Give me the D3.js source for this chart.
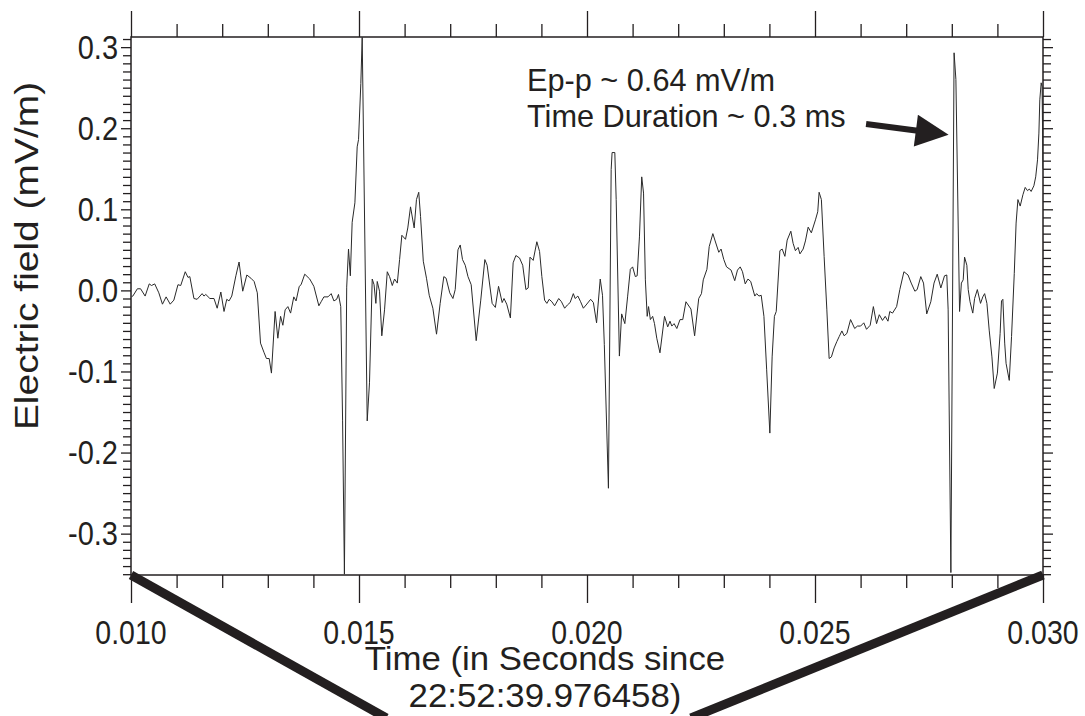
<!DOCTYPE html>
<html>
<head>
<meta charset="utf-8">
<script src="https://cdn.jsdelivr.net/npm/d3@7/dist/d3.min.js"></script>
<style>
  html, body { margin: 0; padding: 0; background: #fff; }
  svg { display: block; }
  text { font-family: "Liberation Sans", Arial, Helvetica, sans-serif; fill: #231f20; }
</style>
</head>
<body>
<svg id="chart" width="1085" height="716"></svg>
<script>
// Time since 22:52:39.976458, in seconds
const time = [
  0.01001, 0.01004, 0.01014, 0.01021, 0.01031, 0.01040, 0.01045, 0.01052, 0.01061, 0.01069,
  0.01077, 0.01086, 0.01094, 0.01103, 0.01109, 0.01119, 0.01125, 0.01129, 0.01138, 0.01145,
  0.01156, 0.01160, 0.01164, 0.01173, 0.01182, 0.01189, 0.01197, 0.01204, 0.01210, 0.01215,
  0.01221, 0.01230, 0.01237, 0.01245, 0.01254, 0.01263, 0.01270, 0.01277, 0.01284, 0.01292,
  0.01297, 0.01303, 0.01308, 0.01316, 0.01322, 0.01328, 0.01333, 0.01338, 0.01344, 0.01350,
  0.01357, 0.01362, 0.01369, 0.01373, 0.01381, 0.01392, 0.01401, 0.01412, 0.01417, 0.01423,
  0.01432, 0.01439, 0.01445, 0.01451, 0.01455, 0.01460, 0.01464, 0.01468, 0.01473, 0.01477,
  0.01481, 0.01485, 0.01491, 0.01496, 0.01499, 0.01504, 0.01507, 0.01518, 0.01523, 0.01529,
  0.01533, 0.01537, 0.01540, 0.01545, 0.01550, 0.01556, 0.01562, 0.01567, 0.01573, 0.01578,
  0.01584, 0.01589, 0.01594, 0.01602, 0.01607, 0.01613, 0.01621, 0.01626, 0.01631, 0.01635,
  0.01641, 0.01648, 0.01654, 0.01662, 0.01670, 0.01678, 0.01686, 0.01691, 0.01699, 0.01706,
  0.01711, 0.01717, 0.01722, 0.01727, 0.01733, 0.01739, 0.01746, 0.01757, 0.01767, 0.01776,
  0.01781, 0.01792, 0.01799, 0.01806, 0.01814, 0.01818, 0.01824, 0.01832, 0.01838, 0.01844,
  0.01852, 0.01859, 0.01866, 0.01871, 0.01875, 0.01882, 0.01890, 0.01896, 0.01901, 0.01907,
  0.01912, 0.01917, 0.01923, 0.01929, 0.01938, 0.01944, 0.01951, 0.01957, 0.01963, 0.01970,
  0.01974, 0.01980, 0.01986, 0.01992, 0.01998, 0.02008, 0.02014, 0.02021, 0.02029, 0.02034,
  0.02038, 0.02047, 0.02053, 0.02055, 0.02061, 0.02064, 0.02071, 0.02076, 0.02083, 0.02089,
  0.02095, 0.02100, 0.02106, 0.02110, 0.02115, 0.02120, 0.02124, 0.02128, 0.02132, 0.02135,
  0.02139, 0.02144, 0.02148, 0.02153, 0.02160, 0.02170, 0.02177, 0.02182, 0.02186, 0.02191,
  0.02197, 0.02204, 0.02210, 0.02217, 0.02228, 0.02236, 0.02245, 0.02251, 0.02255, 0.02263,
  0.02268, 0.02276, 0.02281, 0.02289, 0.02294, 0.02300, 0.02306, 0.02316, 0.02324, 0.02330,
  0.02336, 0.02341, 0.02347, 0.02353, 0.02359, 0.02368, 0.02372, 0.02377, 0.02382, 0.02388,
  0.02394, 0.02401, 0.02406, 0.02411, 0.02415, 0.02423, 0.02428, 0.02434, 0.02439, 0.02447,
  0.02452, 0.02457, 0.02463, 0.02467, 0.02474, 0.02479, 0.02485, 0.02492, 0.02501, 0.02506,
  0.02509, 0.02514, 0.02520, 0.02526, 0.02531, 0.02536, 0.02542, 0.02548, 0.02553, 0.02559,
  0.02564, 0.02570, 0.02578, 0.02587, 0.02593, 0.02600, 0.02607, 0.02613, 0.02621, 0.02628,
  0.02635, 0.02641, 0.02648, 0.02654, 0.02660, 0.02664, 0.02670, 0.02679, 0.02686, 0.02695,
  0.02704, 0.02711, 0.02719, 0.02724, 0.02732, 0.02738, 0.02745, 0.02754, 0.02761, 0.02768,
  0.02776, 0.02784, 0.02789, 0.02792, 0.02798, 0.02805, 0.02809, 0.02817, 0.02821, 0.02825,
  0.02828, 0.02833, 0.02836, 0.02840, 0.02846, 0.02850, 0.02856, 0.02863, 0.02868, 0.02872,
  0.02877, 0.02882, 0.02888, 0.02893, 0.02900, 0.02906, 0.02909, 0.02912, 0.02916, 0.02919,
  0.02926, 0.02931, 0.02937, 0.02941, 0.02945, 0.02950, 0.02956, 0.02961, 0.02966, 0.02970,
  0.02974, 0.02980, 0.02984, 0.02988, 0.02991, 0.02993, 0.02996, 0.02998, 0.03000
];

// Electric field, mV/m
const field = [
  -0.008, -0.007, 0.002, 0.002, -0.007, 0.008, 0.006, 0.008, -0.003, -0.017,
  -0.008, -0.017, -0.012, 0.007, 0.006, 0.023, 0.016, 0.017, -0.010, -0.011,
  -0.004, -0.007, -0.005, -0.010, -0.010, -0.022, -0.002, -0.026, -0.011, -0.013,
  -0.007, 0.018, 0.035, -0.001, 0.019, 0.015, 0.011, -0.003, -0.065, -0.077,
  -0.084, -0.084, -0.102, -0.026, -0.059, -0.032, -0.043, -0.024, -0.020, -0.028,
  -0.008, -0.013, 0.005, 0.007, 0.020, 0.014, 0.005, -0.019, -0.014, -0.008,
  -0.008, -0.004, -0.013, -0.011, -0.005, -0.020, -0.160, -0.350, 0.004, 0.051,
  0.018, 0.084, 0.108, 0.177, 0.186, 0.255, 0.312, -0.161, -0.114, 0.014,
  0.007, -0.016, 0.011, -0.001, -0.056, -0.024, 0.023, 0.017, 0.006, 0.014,
  0.009, 0.038, 0.068, 0.063, 0.077, 0.103, 0.077, 0.112, 0.121, 0.091,
  0.036, 0.015, -0.006, -0.022, -0.054, -0.016, 0.017, 0.015, -0.003, -0.010,
  0.001, 0.050, 0.056, 0.038, 0.031, 0.017, 0.007, -0.062, -0.012, 0.038,
  0.031, -0.016, -0.021, 0.005, -0.015, -0.010, -0.017, -0.034, 0.034, 0.043,
  0.040, 0.031, 0.001, 0.003, 0.041, 0.037, 0.060, 0.048, 0.017, -0.012,
  -0.016, -0.011, -0.014, -0.019, -0.010, -0.014, -0.022, -0.018, -0.015, -0.004,
  -0.010, -0.007, -0.014, -0.022, -0.018, -0.011, -0.015, -0.040, 0.014, -0.006,
  -0.067, -0.244, 0.149, 0.170, 0.170, 0.112, -0.081, -0.029, -0.041, -0.008,
  0.026, 0.029, 0.017, 0.018, 0.066, 0.140, 0.120, 0.013, -0.032, -0.020,
  -0.036, -0.032, -0.041, -0.059, -0.077, -0.032, -0.045, -0.038, -0.044, -0.041,
  -0.047, -0.036, -0.036, -0.014, -0.023, -0.056, -0.010, -0.004, 0.013, 0.026,
  0.054, 0.070, 0.061, 0.047, 0.051, 0.038, 0.029, 0.025, 0.012, 0.025,
  0.029, 0.023, 0.008, 0.014, 0.011, -0.007, -0.004, -0.007, -0.006, -0.032,
  -0.098, -0.176, -0.082, -0.032, -0.026, 0.049, 0.051, 0.042, 0.062, 0.073,
  0.058, 0.049, 0.053, 0.045, 0.051, 0.061, 0.078, 0.071, 0.087, 0.097,
  0.121, 0.112, 0.042, -0.024, -0.084, -0.082, -0.071, -0.063, -0.057, -0.050,
  -0.056, -0.053, -0.036, -0.047, -0.044, -0.044, -0.040, -0.048, -0.043, -0.020,
  -0.041, -0.030, -0.037, -0.032, -0.038, -0.026, -0.028, -0.020, 0.001, 0.023,
  0.019, 0.009, -0.001, 0.001, 0.017, 0.009, -0.029, -0.014, 0.009, 0.020,
  0.003, 0.018, 0.019, -0.024, -0.348, 0.293, 0.260, -0.026, 0.009, 0.013,
  0.041, 0.031, 0.001, -0.014, -0.028, -0.010, 0.001, -0.016, -0.008, -0.004,
  -0.016, -0.049, -0.082, -0.121, -0.102, -0.053, -0.013, -0.011, -0.065, -0.090,
  -0.111, -0.057, 0.021, 0.083, 0.112, 0.104, 0.118, 0.127, 0.123, 0.125,
  0.122, 0.129, 0.140, 0.161, 0.194, 0.235, 0.256, 0.251, 0.150
];

const xDomain = [0.010, 0.030];
const yDomain = [-0.351, 0.3125];

const xTickValues = [0.010, 0.015, 0.020, 0.025, 0.030];
const xTickLabels = ["0.010", "0.015", "0.020", "0.025", "0.030"];
const yTickValues = [-0.3, -0.2, -0.1, 0.0, 0.1, 0.2, 0.3];
const yTickLabels = ["-0.3", "-0.2", "-0.1", "0.0", "0.1", "0.2", "0.3"];
const xMinorStep = 0.001;
const yMinorStep = 0.01;

const xTitleLines = ["Time (in Seconds since", "22:52:39.976458)"];
const yTitle = "Electric field (mV/m)";
const noteLines = ["Ep-p ~ 0.64 mV/m", "Time Duration ~ 0.3 ms"];

const W = 1085, H = 716;
const margin = { left: 131, right: 42, top: 37, bottom: 141 };
const ink = "#231f20";
const tall = 1.14;   // axis lettering is drawn slightly taller than wide

const svg = d3.select("#chart");

const x = d3.scaleLinear().domain(xDomain).range([margin.left, W - margin.right]);
const y = d3.scaleLinear().domain(yDomain).range([H - margin.bottom, margin.top]);

const x0 = x.range()[0], x1 = x.range()[1];
const yTop = y.range()[1], yBot = y.range()[0];

// minor tick positions (skipping the labelled ones)
const xMinor = d3.range(0, 21).map(i => +(xDomain[0] + i * xMinorStep).toFixed(4))
  .filter(v => !xTickValues.some(t => Math.abs(t - v) < 1e-9));
const yMinor = d3.range(-35, 32).map(i => +(i * yMinorStep).toFixed(3))
  .filter(v => !yTickValues.some(t => Math.abs(t - v) < 1e-9) && v >= yDomain[0] && v <= yDomain[1]);

function styleAxis(g) {
  g.select(".domain").remove();
  g.selectAll(".tick line").attr("stroke", ink).attr("stroke-width", 1.3);
}

// tick marks on all four sides
const tickSets = [
  [d3.axisBottom(x).tickValues(xMinor).tickSize(13), `translate(0,${yBot})`],
  [d3.axisBottom(x).tickValues(xTickValues).tickSize(28), `translate(0,${yBot})`],
  [d3.axisTop(x).tickValues(xMinor).tickSize(13), `translate(0,${yTop})`],
  [d3.axisTop(x).tickValues(xTickValues).tickSize(26), `translate(0,${yTop})`],
  [d3.axisLeft(y).tickValues(yMinor).tickSize(8), `translate(${x0},0)`],
  [d3.axisLeft(y).tickValues(yTickValues).tickSize(10), `translate(${x0},0)`],
  [d3.axisRight(y).tickValues(yMinor).tickSize(8), `translate(${x1},0)`],
  [d3.axisRight(y).tickValues(yTickValues).tickSize(10), `translate(${x1},0)`]
];
tickSets.forEach(([ax, tr]) => {
  const g = svg.append("g").attr("transform", tr).call(ax.tickFormat(""));
  styleAxis(g);
  g.selectAll(".tick text").remove();
});

// tick labels
svg.append("g").selectAll("text")
  .data(xTickValues)
  .join("text")
  .attr("text-anchor", "middle")
  .attr("font-size", 28.5)
  .attr("transform", d => `translate(${x(d)},${yBot + 69}) scale(1,${tall})`)
  .text((d, i) => xTickLabels[i]);

svg.append("g").selectAll("text")
  .data(yTickValues)
  .join("text")
  .attr("text-anchor", "end")
  .attr("font-size", 29)
  .attr("transform", d => `translate(${x0 - 13},${y(d) + 11.5}) scale(1,${tall})`)
  .text((d, i) => yTickLabels[i]);

// plot frame
svg.append("rect")
  .attr("x", x0).attr("y", yTop).attr("width", x1 - x0).attr("height", yBot - yTop)
  .attr("fill", "none").attr("stroke", ink).attr("stroke-width", 1.5);

// waveform
svg.append("clipPath").attr("id", "plot-clip")
  .append("rect").attr("x", x0).attr("y", yTop).attr("width", x1 - x0).attr("height", yBot - yTop);

const series = time.map((t, i) => [t, field[i]]);
svg.append("path")
  .datum(series)
  .attr("clip-path", "url(#plot-clip)")
  .attr("fill", "none")
  .attr("stroke", "#2a2a2a")
  .attr("stroke-width", 1)
  .attr("stroke-linejoin", "round")
  .attr("d", d3.line().x(d => x(d[0])).y(d => y(d[1])));

// zoom guide lines from the plot's lower corners toward the page bottom
const guides = [
  [[xDomain[0], yDomain[0]], 0.01560],
  [[xDomain[1], yDomain[0]], 0.02228]
];
guides.forEach(([from, toT]) => {
  svg.append("line")
    .attr("x1", x(from[0])).attr("y1", y(from[1]))
    .attr("x2", x(toT)).attr("y2", H + 2)
    .attr("stroke", ink).attr("stroke-width", 9);
});

// axis titles
xTitleLines.forEach((s, i) => {
  svg.append("text")
    .attr("text-anchor", "middle")
    .attr("font-size", 33)
    .attr("transform", `translate(545,${670 + i * 37}) scale(1.055,1)`)
    .text(s);
});

svg.append("text")
  .attr("transform", "translate(38,256) rotate(-90) scale(1.18,1)")
  .attr("text-anchor", "middle")
  .attr("font-size", 33)
  .text(yTitle);

// annotation
const note = svg.append("text").attr("font-size", 30.7);
noteLines.forEach((s, i) => {
  note.append("tspan").attr("x", 527).attr("y", 91 + i * 36).text(s);
});

// arrow pointing at the second event
const arrowTail = [x(0.02612), y(0.2051)];
const arrowTip = [x(0.02793), y(0.1919)];
const ang = Math.atan2(arrowTip[1] - arrowTail[1], arrowTip[0] - arrowTail[0]);
const headLen = 33, headHalf = 16;
const bx = arrowTip[0] - headLen * Math.cos(ang), by = arrowTip[1] - headLen * Math.sin(ang);
svg.append("line")
  .attr("x1", arrowTail[0]).attr("y1", arrowTail[1])
  .attr("x2", bx + 2 * Math.cos(ang)).attr("y2", by + 2 * Math.sin(ang))
  .attr("stroke", ink).attr("stroke-width", 6);
svg.append("path")
  .attr("fill", ink)
  .attr("d", `M${arrowTip[0]},${arrowTip[1]}
    L${bx - headHalf * Math.sin(ang)},${by + headHalf * Math.cos(ang)}
    L${bx + headHalf * Math.sin(ang)},${by - headHalf * Math.cos(ang)}Z`);
</script>
</body>
</html>
